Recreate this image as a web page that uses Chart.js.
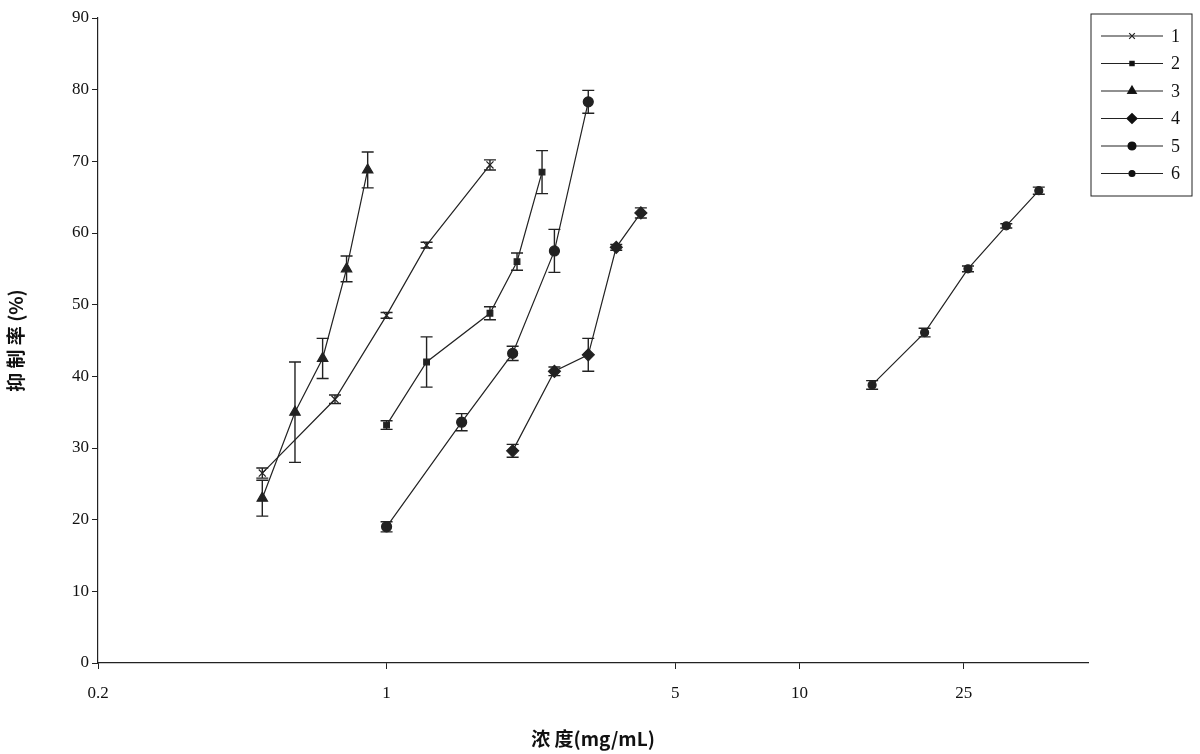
<!DOCTYPE html>
<html>
<head>
<meta charset="utf-8">
<script src="https://cdn.jsdelivr.net/npm/chart.js@4"></script>
<style>
  body { margin: 0; background: #fff; }
  #wrap { width: 1200px; height: 754px; }
</style>
</head>
<body>
<div id="wrap"><canvas id="c" width="1200" height="754"></canvas></div>
<script>
// data
const labels = ['1', '2', '3', '4', '5', '6'];
const xTicks = [0.2, 1, 5, 10, 25];
const yTicks = [0, 10, 20, 30, 40, 50, 60, 70, 80, 90];

const x1 = [0.5, 0.75, 1, 1.25, 1.78];
const y1 = [26.5, 36.8, 48.5, 58.3, 69.5];
const e1 = [0.7, 0.6, 0.4, 0.4, 0.7];

const x2 = [1, 1.25, 1.78, 2.07, 2.38];
const y2 = [33.2, 42, 48.8, 56, 68.5];
const e2 = [0.6, 3.5, 0.9, 1.2, 3.0];

const x3 = [0.5, 0.6, 0.7, 0.8, 0.9];
const y3 = [23, 35, 42.5, 55, 68.8];
const e3 = [2.5, 7, 2.8, 1.8, 2.5];

const x4 = [2.02, 2.55, 3.08, 3.6, 4.13];
const y4 = [29.6, 40.7, 43, 58, 62.8];
const e4 = [0.9, 0.6, 2.3, 0.4, 0.7];

const x5 = [1, 1.52, 2.02, 2.55, 3.08];
const y5 = [19, 33.6, 43.2, 57.5, 78.3];
const e5 = [0.7, 1.2, 1.0, 3.0, 1.6];

const x6 = [15, 20.1, 25.6, 31.7, 38];
const y6 = [38.8, 46.1, 55, 61, 65.9];
const e6 = [0.6, 0.6, 0.4, 0.3, 0.5];

const styles = ['crossRot', 'rect', 'triangle', 'rectRot', 'circle', 'circle'];
const sizes = [5, 4, 6, 6, 5, 4];
const xs = [x1, x2, x3, x4, x5, x6];
const ys = [y1, y2, y3, y4, y5, y6];
const es = [e1, e2, e3, e4, e5, e6];

const datasets = labels.map((lab, i) => ({
  label: lab,
  data: xs[i].map((x, j) => ({ x: x, y: ys[i][j] })),
  err: es[i],
  borderColor: '#222',
  backgroundColor: '#222',
  borderWidth: 1.2,
  pointStyle: styles[i],
  pointRadius: sizes[i],
  pointBorderWidth: 1.2,
  showLine: true
}));

const serif = '"Liberation Serif", "DejaVu Serif", serif';

// error bars, drawn through the chart's scales
const errorBars = {
  id: 'errorBars',
  afterDatasetsDraw(chart) {
    const ctx = chart.ctx, xs = chart.scales.x, ys = chart.scales.y;
    ctx.save();
    ctx.strokeStyle = '#222';
    ctx.lineWidth = 1.4;
    chart.data.datasets.forEach(ds => {
      ds.data.forEach((p, j) => {
        const e = ds.err[j];
        const px = xs.getPixelForValue(p.x);
        const top = ys.getPixelForValue(p.y + e);
        const bot = ys.getPixelForValue(p.y - e);
        ctx.beginPath();
        ctx.moveTo(px, top); ctx.lineTo(px, bot);
        ctx.moveTo(px - 6, top); ctx.lineTo(px + 6, top);
        ctx.moveTo(px - 6, bot); ctx.lineTo(px + 6, bot);
        ctx.stroke();
      });
    });
    ctx.restore();
  }
};

// framed legend at top right
const boxLegend = {
  id: 'boxLegend',
  afterDraw(chart) {
    const ctx = chart.ctx;
    const x0 = 1091, y0 = 14, w = 101, h = 182;
    ctx.save();
    ctx.strokeStyle = '#222';
    ctx.lineWidth = 1;
    ctx.strokeRect(x0, y0, w, h);
    ctx.font = '18px ' + serif;
    ctx.fillStyle = '#111';
    ctx.textBaseline = 'middle';
    chart.data.datasets.forEach((ds, i) => {
      const yy = y0 + 22 + i * 27.5;
      ctx.beginPath();
      ctx.lineWidth = 1.2;
      ctx.moveTo(x0 + 10, yy); ctx.lineTo(x0 + 72, yy);
      ctx.stroke();
      Chart.helpers.drawPoint(ctx, { pointStyle: ds.pointStyle, radius: ds.pointRadius - 1, borderWidth: 1 }, x0 + 41, yy);
      ctx.fill();
      ctx.fillText(ds.label, x0 + 80, yy + 1);
    });
    ctx.restore();
  }
};

new Chart(document.getElementById('c'), {
  type: 'scatter',
  data: { datasets: datasets },
  options: {
    responsive: false,
    animation: false,
    layout: { padding: { top: 18, right: 112, left: 0, bottom: 0 } },
    plugins: { legend: { display: false }, tooltip: { enabled: false } },
    scales: {
      x: {
        type: 'logarithmic',
        min: 0.2,
        max: 50,
        afterBuildTicks: s => { s.ticks = xTicks.map(v => ({ value: v })); },
        afterFit: s => { s.height = 91; },
        ticks: {
          color: '#111',
          font: { family: serif, size: 17 },
          callback: v => String(v),
          autoSkip: false,
          maxRotation: 0,
          padding: 14
        },
        grid: { drawOnChartArea: false, drawTicks: true, tickLength: 6, color: '#222' },
        border: { color: '#222', width: 1.2 },
        title: {
          display: true,
          text: '浓 度(mg/mL)',
          color: '#111',
          font: { family: '"Noto Sans CJK SC", ' + serif, size: 19, weight: 'bold' },
          padding: { top: 6 }
        }
      },
      y: {
        min: 0,
        max: 90,
        afterBuildTicks: s => { s.ticks = yTicks.map(v => ({ value: v })); },
        afterFit: s => { s.width = 98; },
        ticks: { color: '#111', font: { family: serif, size: 17 } },
        grid: { drawOnChartArea: false, drawTicks: true, tickLength: 6, color: '#222' },
        border: { color: '#222', width: 1.2 },
        title: {
          display: true,
          text: '抑 制 率 (%)',
          color: '#111',
          font: { family: '"Noto Sans CJK SC", ' + serif, size: 19, weight: 'bold' },
          padding: { bottom: 8 }
        }
      }
    }
  },
  plugins: [errorBars, boxLegend]
});
</script>
</body>
</html>
